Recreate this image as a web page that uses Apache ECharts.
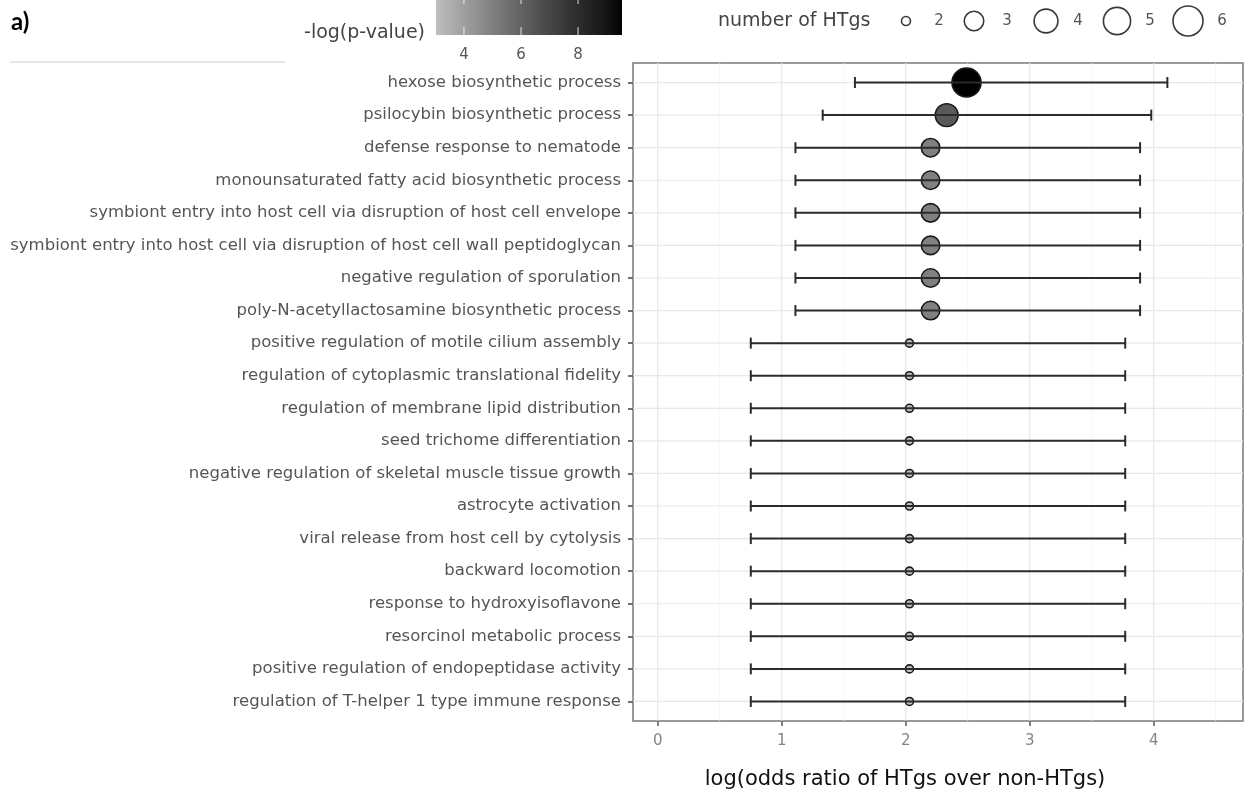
<!DOCTYPE html>
<html>
<head>
<meta charset="utf-8">
<script src="https://cdn.jsdelivr.net/npm/echarts@6/dist/echarts.min.js"></script>
<style>
html,body{margin:0;padding:0;background:#fff;}
#chart{width:1245px;height:797px;}
</style>
</head>
<body>
<div id="chart"></div>
<script>
// ---------------- data ----------------
const categories = [
  "hexose biosynthetic process",
  "psilocybin biosynthetic process",
  "defense response to nematode",
  "monounsaturated fatty acid biosynthetic process",
  "symbiont entry into host cell via disruption of host cell envelope",
  "symbiont entry into host cell via disruption of host cell wall peptidoglycan",
  "negative regulation of sporulation",
  "poly-N-acetyllactosamine biosynthetic process",
  "positive regulation of motile cilium assembly",
  "regulation of cytoplasmic translational fidelity",
  "regulation of membrane lipid distribution",
  "seed trichome differentiation",
  "negative regulation of skeletal muscle tissue growth",
  "astrocyte activation",
  "viral release from host cell by cytolysis",
  "backward locomotion",
  "response to hydroxyisoflavone",
  "resorcinol metabolic process",
  "positive regulation of endopeptidase activity",
  "regulation of T-helper 1 type immune response"
];
const logOdds = [2.49, 2.33, 2.20, 2.20, 2.20, 2.20, 2.20, 2.20,
  2.03, 2.03, 2.03, 2.03, 2.03, 2.03, 2.03, 2.03, 2.03, 2.03, 2.03, 2.03];
const ciLow = [1.59, 1.33, 1.11, 1.11, 1.11, 1.11, 1.11, 1.11,
  0.75, 0.75, 0.75, 0.75, 0.75, 0.75, 0.75, 0.75, 0.75, 0.75, 0.75, 0.75];
const ciHigh = [4.11, 3.98, 3.89, 3.89, 3.89, 3.89, 3.89, 3.89,
  3.77, 3.77, 3.77, 3.77, 3.77, 3.77, 3.77, 3.77, 3.77, 3.77, 3.77, 3.77];
const nHTgs = [6, 4, 3, 3, 3, 3, 3, 3, 2, 2, 2, 2, 2, 2, 2, 2, 2, 2, 2, 2];
const negLogP = [9.54, 6.35, 5.0, 5.0, 5.0, 5.0, 5.0, 5.0,
  3.02, 3.02, 3.02, 3.02, 3.02, 3.02, 3.02, 3.02, 3.02, 3.02, 3.02, 3.02];
const xTicks = [0, 1, 2, 3, 4];
const xMinor = [0.5, 1.5, 2.5, 3.5, 4.5];
const sizeBreaks = [2, 3, 4, 5, 6];
const colorBreaks = [4, 6, 8];

// ---------------- scales ----------------
const pMin = Math.min(...negLogP), pMax = Math.max(...negLogP);
function grayFor(p) {
  const t = (p - pMin) / (pMax - pMin);
  const L = 77 * (1 - t);              // Lab lightness from "grey" to black
  const Y = L > 8 ? Math.pow((L + 16) / 116, 3) : L / 903.3;
  const v = Y <= 0.0031308 ? 12.92 * Y : 1.055 * Math.pow(Y, 1 / 2.4) - 0.055;
  const g = Math.round(255 * Math.max(0, Math.min(1, v)));
  return 'rgb(' + g + ',' + g + ',' + g + ')';
}
function sizeFor(n) {
  return 8 + 21 * Math.sqrt((n - 2) / 4);
}

const rows = categories.map((c, i) => i);
const FONT = 'DejaVu Sans';
const X_MIN = -0.2, X_MAX = 4.72, Y_MIN = -0.6, Y_MAX = 19.6;

const chart = echarts.init(document.getElementById('chart'), null, {renderer: 'canvas'});

// ---------------- legends (graphics) ----------------
const graphics = [];
graphics.push({type: 'text', x: 11, y: 22, style: {text: 'a)', font: 'bold 24px Lato', fill: '#000', verticalAlign: 'middle'}});
graphics.push({type: 'line', shape: {x1: 10, y1: 62, x2: 285, y2: 62}, style: {stroke: '#e6e6e6', lineWidth: 2}});
// colour bar
const cbX = 436, cbW = 186, cbY = -4, cbH = 39;
const stops = [];
for (let k = 0; k <= 20; k++) {
  const p = pMin + (pMax - pMin) * k / 20;
  stops.push({offset: k / 20, color: grayFor(p)});
}
graphics.push({type: 'rect', shape: {x: cbX, y: cbY, width: cbW, height: cbH},
  style: {fill: new echarts.graphic.LinearGradient(0, 0, 1, 0, stops)}});
colorBreaks.forEach(b => {
  const x = cbX + (b - pMin) / (pMax - pMin) * cbW;
  graphics.push({type: 'line', shape: {x1: x, y1: cbY, x2: x, y2: cbY + 8}, style: {stroke: 'rgba(255,255,255,0.8)', lineWidth: 1}});
  graphics.push({type: 'line', shape: {x1: x, y1: cbY + cbH - 8, x2: x, y2: cbY + cbH}, style: {stroke: 'rgba(255,255,255,0.8)', lineWidth: 1}});
  graphics.push({type: 'text', x: x, y: 55, style: {text: String(b), font: '15px ' + FONT, fill: '#555', align: 'center', verticalAlign: 'middle'}});
});
graphics.push({type: 'text', x: 425, y: 33, style: {text: '-log(p-value)', font: '19px ' + FONT, fill: '#444', align: 'right', verticalAlign: 'middle'}});
// size legend
graphics.push({type: 'text', x: 718, y: 21, style: {text: 'number of HTgs', font: '19px ' + FONT, fill: '#444', align: 'left', verticalAlign: 'middle'}});
const legCx = [906, 974, 1046, 1117, 1188];
const legTx = [939, 1007, 1078, 1150, 1222];
sizeBreaks.forEach((s, k) => {
  graphics.push({type: 'circle', shape: {cx: legCx[k], cy: 21, r: sizeFor(s) / 2 + 0.5}, style: {fill: 'none', stroke: '#3a3a3a', lineWidth: 1.6}});
  graphics.push({type: 'text', x: legTx[k], y: 21, style: {text: String(s), font: '15px ' + FONT, fill: '#555', align: 'center', verticalAlign: 'middle'}});
});
// x axis title
graphics.push({type: 'text', x: 905, y: 780, style: {text: 'log(odds ratio of HTgs over non-HTgs)', font: '21px ' + FONT, fill: '#111', align: 'center', verticalAlign: 'middle'}});

// ---------------- option ----------------
const option = {
  animation: false,
  backgroundColor: '#fff',
  grid: {left: 633, top: 63, width: 610, height: 658, show: true, borderColor: '#7a7a7a', borderWidth: 1.5, backgroundColor: '#fff', containLabel: false},
  xAxis: {
    type: 'value', min: X_MIN, max: X_MAX, position: 'bottom',
    splitLine: {show: false},
    axisLine: {show: false, onZero: false},
    axisTick: {show: true, customValues: xTicks, length: 5, lineStyle: {color: '#555', width: 1.5}},
    axisLabel: {customValues: xTicks, color: '#858585', fontSize: 15, fontFamily: FONT, margin: 13}
  },
  yAxis: {
    type: 'value', inverse: true, min: Y_MIN, max: Y_MAX, position: 'left',
    splitLine: {show: false},
    axisLine: {show: false, onZero: false},
    axisTick: {show: true, customValues: rows, length: 5, lineStyle: {color: '#444', width: 1.5}},
    axisLabel: {customValues: rows, color: '#555', fontSize: 16.5, fontFamily: FONT, margin: 12,
      formatter: v => categories[Math.round(v)] || ''}
  },
  graphic: graphics,
  series: [
    {
      type: 'custom', name: 'vgrid', z: 1, silent: true,
      data: xMinor.map(v => [v, 0, 0]).concat(xTicks.map(v => [v, 0, 1])),
      renderItem: function (params, api) {
        const x = api.value(0), major = api.value(2) === 1;
        const a = api.coord([x, Y_MIN]), b = api.coord([x, Y_MAX]);
        return {type: 'line', shape: {x1: a[0], y1: a[1], x2: b[0], y2: b[1]},
          style: {stroke: major ? '#e6e6e6' : '#f3f3f3', lineWidth: major ? 1.2 : 0.8}};
      }
    },
    {
      type: 'custom', name: 'hgrid', z: 1, silent: true,
      data: rows.map(r => [0, r]),
      renderItem: function (params, api) {
        const y = api.value(1);
        const a = api.coord([X_MIN, y]), b = api.coord([X_MAX, y]);
        return {type: 'line', shape: {x1: a[0], y1: a[1], x2: b[0], y2: b[1]},
          style: {stroke: '#e8e8e8', lineWidth: 1.2}};
      }
    },
    {
      type: 'scatter', name: 'points', z: 3,
      data: rows.map(i => [logOdds[i], i, nHTgs[i], negLogP[i]]),
      symbol: 'circle',
      symbolSize: function (val) { return sizeFor(val[2]); },
      itemStyle: {
        color: function (params) { return grayFor(params.data[3]); },
        borderColor: '#1a1a1a', borderWidth: 1.6, opacity: 1
      }
    },
    {
      type: 'custom', name: 'errorbars', z: 4,
      data: rows.map(i => [ciLow[i], ciHigh[i], i]),
      renderItem: function (params, api) {
        const lo = api.value(0), hi = api.value(1), y = api.value(2);
        const a = api.coord([lo, y]), b = api.coord([hi, y]);
        const h = 5.5;
        const st = {stroke: '#2b2b2b', lineWidth: 2};
        return {type: 'group', children: [
          {type: 'line', shape: {x1: a[0], y1: a[1], x2: b[0], y2: b[1]}, style: st},
          {type: 'line', shape: {x1: a[0], y1: a[1] - h, x2: a[0], y2: a[1] + h}, style: st},
          {type: 'line', shape: {x1: b[0], y1: b[1] - h, x2: b[0], y2: b[1] + h}, style: st}
        ]};
      }
    }
  ]
};
chart.setOption(option);
</script>
</body>
</html>
